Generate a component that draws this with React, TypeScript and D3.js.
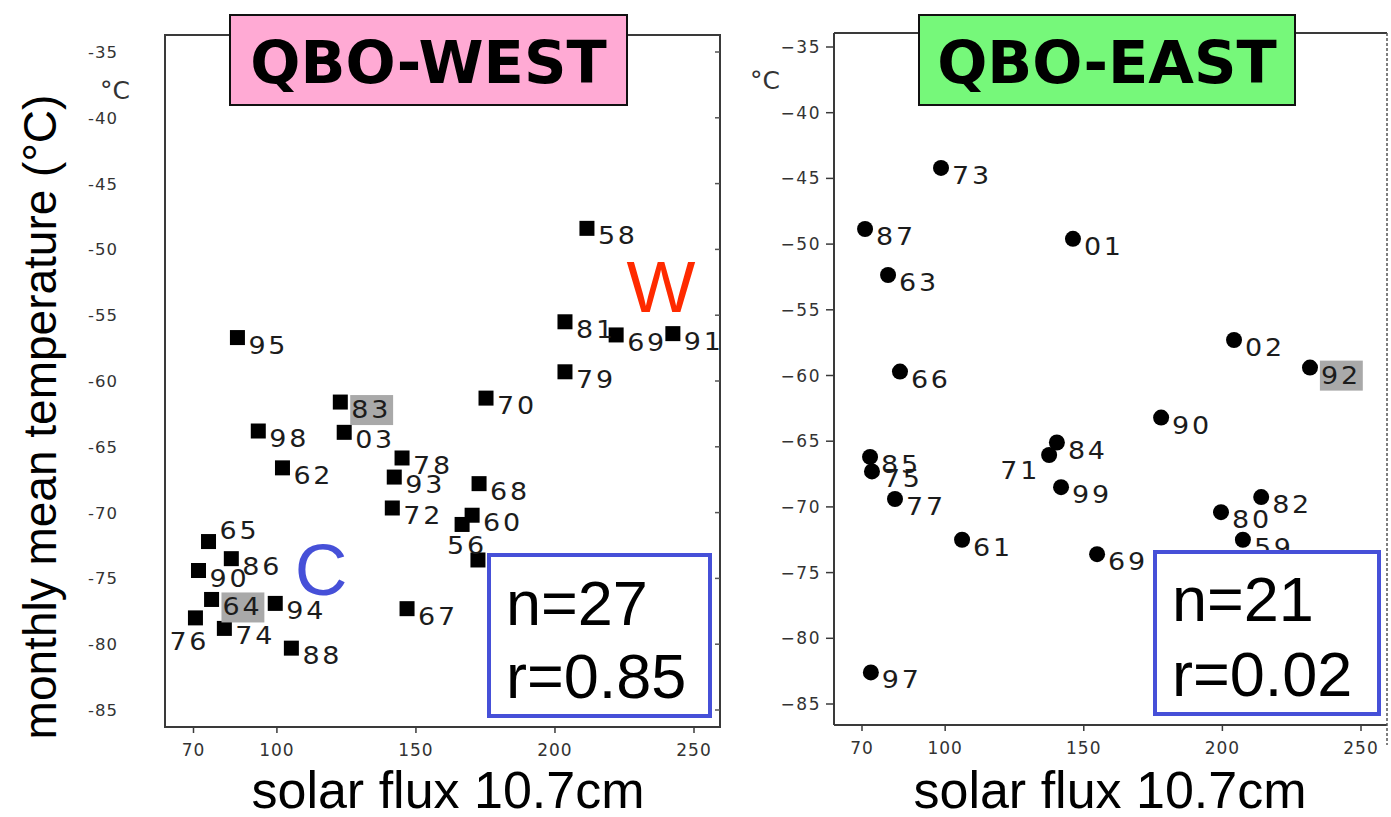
import React from "react";
import * as d3 from "d3";

// QBO-west winters: year label, 10.7 cm solar flux, monthly mean temperature (°C)
const westYears = ["58", "81", "69", "91", "79", "70", "95", "98", "83", "03", "62", "78", "93", "72", "68", "60", "56", "", "65", "86", "90", "64", "94", "76", "74", "88", "67"];
const westFlux = [211.5, 203.6, 222, 242.4, 203.6, 175.2, 85.8, 93.3, 122.8, 124.2, 102, 145, 142.2, 141.5, 172.7, 170.2, 166.6, 172.3, 75.4, 83.6, 71.8, 76.5, 99.4, 70.7, 81.1, 105.2, 146.8];
const westTemp = [-48.4, -55.5, -56.5, -56.4, -59.3, -61.3, -56.7, -63.8, -61.6, -63.9, -66.6, -65.85, -67.3, -69.65, -67.8, -70.2, -70.9, -73.6, -72.2, -73.5, -74.4, -76.6, -76.9, -78, -78.8, -80.3, -77.3];

// QBO-east winters
const eastYears = ["73", "87", "63", "01", "66", "85", "75", "77", "61", "97", "71", "84", "99", "69", "90", "02", "92", "82", "80", "59"];
const eastFlux = [98.5, 71.1, 79.4, 146.1, 83.7, 72.9, 73.6, 81.9, 106.1, 73.2, 137.5, 140.3, 141.8, 154.8, 177.9, 204.2, 231.6, 214, 199.5, 207.4];
const eastTemp = [-44.2, -48.85, -52.35, -49.6, -59.7, -66.2, -67.3, -69.4, -72.5, -82.6, -66.05, -65.1, -68.5, -73.6, -63.2, -57.3, -59.4, -69.25, -70.4, -72.5];

// Highlighted year labels
const westHighlighted = ["83", "64"];
const eastHighlighted = ["92"];

const yTicks = [-35, -40, -45, -50, -55, -60, -65, -70, -75, -80, -85];
const xTicks = [70, 100, 150, 200, 250];

const westStats = ["n=27", "r=0.85"];
const eastStats = ["n=21", "r=0.02"];

// Label offsets from the marker centre for crowded points
type Place = { dx: number; dy: number; anchor: "start" | "end" };
const defaultPlace: Place = { dx: 11, dy: 16, anchor: "start" };
const westPlace: Record<string, Place> = {
  "65": { dx: 11, dy: -3, anchor: "start" },
  "56": { dx: -15, dy: 30, anchor: "start" },
  "76": { dx: -26, dy: 32, anchor: "start" },
};
const eastPlace: Record<string, Place> = {
  "71": { dx: -9, dy: 24, anchor: "end" },
};

const LABEL_FONT = "'DejaVu Sans', sans-serif";
const ARIAL = "'Liberation Sans', Arial, sans-serif";

function YearLabel({ x, y, text, place, hl }: { x: number; y: number; text: string; place: Place; hl: boolean }) {
  const tx = x + place.dx;
  const ty = y + place.dy;
  return (
    <g transform={`translate(${tx},${ty}) scale(1.1,1)`}>
      {hl && <rect x={-1} y={-23} width={39} height={30} fill="#a9a9a9" />}
      <text
        x={0}
        y={0}
        fontFamily={LABEL_FONT}
        fontSize={24.5}
        letterSpacing={2.5}
        textAnchor={place.anchor}
        fill="#1c1c1c"
      >
        {text}
      </text>
    </g>
  );
}

export default function App() {
  const wx = d3.scaleLinear().domain([70, 250]).range([193.5, 694]);
  const wy = d3.scaleLinear().domain([-35, -85]).range([52, 710]);
  const ex = d3.scaleLinear().domain([70, 250]).range([862, 1361]);
  const ey = d3.scaleLinear().domain([-35, -85]).range([47, 704]);

  const wFrame = { l: 165, t: 35, r: 720, b: 727 };
  const eFrame = { l: 834, t: 33, r: 1387, b: 725 };

  const sq = 15;

  return (
    <svg
      width={1391}
      height={817}
      style={{ position: "absolute", left: 0, top: 0, background: "#fff" }}
    >
      <rect width={1391} height={817} fill="#fff" />

      {/* y axis title */}
      <text
        transform="translate(56,417) rotate(-90)"
        textAnchor="middle"
        fontFamily={ARIAL}
        fontSize={46}
        fill="#000"
      >
        monthly mean temperature (°C)
      </text>

      {/* ---------- QBO-WEST panel ---------- */}
      <g>
        <rect
          x={wFrame.l}
          y={wFrame.t}
          width={wFrame.r - wFrame.l}
          height={wFrame.b - wFrame.t}
          fill="none"
          stroke="#3a3a3a"
          strokeWidth={2}
        />
        {yTicks.map((v) => (
          <g key={`wyt${v}`}>
            <line x1={wFrame.r - 5} x2={wFrame.r} y1={wy(v)} y2={wy(v)} stroke="#555" strokeWidth={1.5} />
            <text
              x={118}
              y={wy(v) + 6}
              textAnchor="end"
              fontFamily={LABEL_FONT}
              fontSize={16.5}
              letterSpacing={1}
              fill="#333"
            >
              {`-${Math.abs(v)}`}
            </text>
          </g>
        ))}
        <text x={100} y={99} fontFamily={LABEL_FONT} fontSize={25} fill="#333">
          °C
        </text>
        {xTicks.map((v) => (
          <g key={`wxt${v}`}>
            <line x1={wx(v)} x2={wx(v)} y1={wFrame.b} y2={wFrame.b + 6} stroke="#3a3a3a" strokeWidth={1.5} />
            <text
              x={wx(v)}
              y={wFrame.b + 29}
              textAnchor="middle"
              fontFamily={LABEL_FONT}
              fontSize={17}
              letterSpacing={1}
              fill="#333"
            >
              {v}
            </text>
          </g>
        ))}
        <text x={448} y={808} textAnchor="middle" fontFamily={ARIAL} fontSize={52} fill="#000">
          solar flux 10.7cm
        </text>

        {westYears.map((yr, i) => (
          <rect
            key={`wp${i}`}
            x={wx(westFlux[i]) - sq / 2}
            y={wy(westTemp[i]) - sq / 2}
            width={sq}
            height={sq}
            fill="#000"
          />
        ))}
        {westYears.map((yr, i) =>
          yr ? (
            <YearLabel
              key={`wl${i}`}
              x={wx(westFlux[i])}
              y={wy(westTemp[i])}
              text={yr}
              place={westPlace[yr] ?? defaultPlace}
              hl={westHighlighted.includes(yr)}
            />
          ) : null
        )}

        <text x={661} y={312} textAnchor="middle" fontFamily={ARIAL} fontSize={73} fill="#ff2a00">
          W
        </text>
        <text x={321} y={595} textAnchor="middle" fontFamily={ARIAL} fontSize={73} fill="#4650d8">
          C
        </text>

        <rect x={489} y={555} width={221} height={161} fill="#fff" stroke="#4650d8" strokeWidth={4} />
        <text x={506} y={625} fontFamily={ARIAL} fontSize={63} fill="#000">
          {westStats[0]}
        </text>
        <text x={506} y={698} fontFamily={ARIAL} fontSize={63} fill="#000">
          {westStats[1]}
        </text>

        <rect x={230} y={15} width={397} height={90} fill="#ffaad4" stroke="#111" strokeWidth={2} />
        <text
          x={428.5}
          y={83}
          textAnchor="middle"
          fontFamily="'DejaVu Sans', Verdana, sans-serif"
          fontWeight="bold"
          fontSize={59}
          fill="#000"
        >
          QBO-WEST
        </text>
      </g>

      {/* ---------- QBO-EAST panel ---------- */}
      <g>
        <line x1={eFrame.l} x2={eFrame.r} y1={eFrame.t} y2={eFrame.t} stroke="#3a3a3a" strokeWidth={2} />
        <line x1={eFrame.l} x2={eFrame.l} y1={eFrame.t} y2={eFrame.b} stroke="#3a3a3a" strokeWidth={2} />
        <line x1={eFrame.l} x2={eFrame.r} y1={eFrame.b} y2={eFrame.b} stroke="#3a3a3a" strokeWidth={2} />
        <line
          x1={eFrame.r}
          x2={eFrame.r}
          y1={eFrame.t}
          y2={eFrame.b + 20}
          stroke="#555"
          strokeWidth={1.5}
          strokeDasharray="3,2"
        />
        {yTicks.map((v) => (
          <g key={`eyt${v}`}>
            <line x1={eFrame.l - 8} x2={eFrame.l} y1={ey(v)} y2={ey(v)} stroke="#3a3a3a" strokeWidth={1.5} />
            <text
              x={821}
              y={ey(v) + 6}
              textAnchor="end"
              fontFamily={LABEL_FONT}
              fontSize={17}
              letterSpacing={1.5}
              fill="#333"
            >
              {`−${Math.abs(v)}`}
            </text>
          </g>
        ))}
        <text x={750} y={89} fontFamily={LABEL_FONT} fontSize={25} fill="#333">
          °C
        </text>
        {xTicks.map((v) => (
          <g key={`ext${v}`}>
            <line x1={ex(v)} x2={ex(v)} y1={eFrame.b} y2={eFrame.b + 6} stroke="#3a3a3a" strokeWidth={1.5} />
            <text
              x={ex(v)}
              y={eFrame.b + 29}
              textAnchor="middle"
              fontFamily={LABEL_FONT}
              fontSize={17}
              letterSpacing={1}
              fill="#333"
            >
              {v}
            </text>
          </g>
        ))}
        <text x={1110} y={808} textAnchor="middle" fontFamily={ARIAL} fontSize={52} fill="#000">
          solar flux 10.7cm
        </text>

        {eastYears.map((yr, i) => (
          <circle key={`ep${i}`} cx={ex(eastFlux[i])} cy={ey(eastTemp[i])} r={8} fill="#000" />
        ))}
        {eastYears.map((yr, i) => (
          <YearLabel
            key={`el${i}`}
            x={ex(eastFlux[i])}
            y={ey(eastTemp[i])}
            text={yr}
            place={eastPlace[yr] ?? defaultPlace}
            hl={eastHighlighted.includes(yr)}
          />
        ))}

        <rect x={1155} y={552} width={224} height={162} fill="#fff" stroke="#4650d8" strokeWidth={4} />
        <text x={1172} y={621} fontFamily={ARIAL} fontSize={63} fill="#000">
          {eastStats[0]}
        </text>
        <text x={1172} y={696} fontFamily={ARIAL} fontSize={63} fill="#000">
          {eastStats[1]}
        </text>

        <rect x={919} y={15} width={376} height={90} fill="#76f87a" stroke="#111" strokeWidth={2} />
        <text
          x={1107}
          y={83}
          textAnchor="middle"
          fontFamily="'DejaVu Sans', Verdana, sans-serif"
          fontWeight="bold"
          fontSize={59}
          fill="#000"
        >
          QBO-EAST
        </text>
      </g>
    </svg>
  );
}
